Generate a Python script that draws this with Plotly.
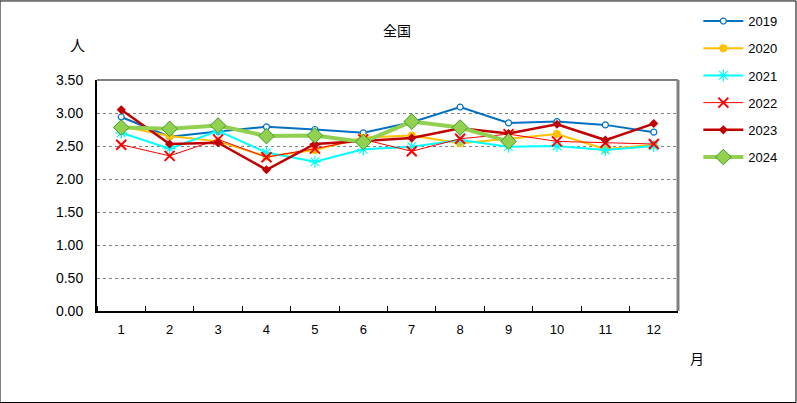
import plotly.graph_objects as go

months = list(range(1, 13))
month_labels = [str(m) for m in months]
y_ticks = [0, 0.5, 1.0, 1.5, 2.0, 2.5, 3.0, 3.5]

v2019 = [2.94, 2.64, 2.72, 2.79, 2.75, 2.70, 2.86, 3.09, 2.85, 2.87, 2.82, 2.71]
v2020 = [2.80, 2.65, 2.57, 2.34, 2.44, 2.63, 2.66, 2.54, 2.61, 2.68, 2.45, 2.52]
v2021 = [2.70, 2.46, 2.73, 2.40, 2.26, 2.45, 2.49, 2.59, 2.49, 2.50, 2.44, 2.50]
v2022 = [2.52, 2.35, 2.60, 2.33, 2.46, 2.60, 2.42, 2.61, 2.68, 2.57, 2.55, 2.53]
v2023 = [3.05, 2.53, 2.55, 2.14, 2.53, 2.57, 2.62, 2.77, 2.69, 2.83, 2.59, 2.84]
v2024 = [2.78, 2.76, 2.81, 2.65, 2.66, 2.56, 2.87, 2.78, 2.57]

series = [
    ("2019", v2019, dict(color="#0070C0", width=2),
     dict(symbol="circle", size=6, color="white", line=dict(color="#0070C0", width=1.2))),
    ("2020", v2020, dict(color="#FFC000", width=2),
     dict(symbol="circle", size=8, color="#FFC000", line=dict(color="#FFC000", width=0))),
    ("2021", v2021, dict(color="#00FFFF", width=2),
     dict(symbol="asterisk-open", size=10, color="#00FFFF", line=dict(color="#00FFFF", width=1.2))),
    ("2022", v2022, dict(color="#FF0000", width=1),
     dict(symbol="x-thin-open", size=10, color="#FF0000", line=dict(color="#FF0000", width=2))),
    ("2023", v2023, dict(color="#C00000", width=2.5),
     dict(symbol="diamond", size=7, color="#C00000", line=dict(color="#C00000", width=0))),
    ("2024", v2024, dict(color="#92D050", width=4),
     dict(symbol="diamond", size=12, color="#92D050", line=dict(color="#3F9A2A", width=1))),
]

fig = go.Figure()
for name, vals, line, marker in series:
    fig.add_trace(go.Scatter(
        x=months[:len(vals)], y=vals, name=name, mode="lines+markers",
        line=line, marker=marker, legendgroup=name,
    ))

font_num = "Liberation Sans, Arial, sans-serif"
fig.update_layout(
    width=797, height=403,
    margin=dict(l=97, r=119, t=80, b=92, autoexpand=False),
    paper_bgcolor="white", plot_bgcolor="white",
    font=dict(family=font_num, size=13, color="black"),
    showlegend=True,
    legend=dict(x=1.035, y=1.32, xanchor="left", yanchor="top",
                font=dict(size=13, family=font_num), tracegroupgap=7.3,
                bgcolor="rgba(0,0,0,0)", itemwidth=40),
    xaxis=dict(range=[0.5, 12.5], tickvals=months, ticktext=month_labels,
               ticks="", showgrid=False, zeroline=False,
               showline=True, linecolor="black", linewidth=2, mirror=False,
               minor=dict(tick0=0.5, dtick=1, ticks="inside", ticklen=5,
                          tickcolor="black", showgrid=False),
               tickfont=dict(size=13), ticklabelstandoff=5),
    yaxis=dict(range=[0, 3.5], tickvals=y_ticks,
               ticktext=[f"{v:.2f}" for v in y_ticks],
               showgrid=True, gridcolor="#808080", griddash="dot", gridwidth=1,
               zeroline=False, showline=True, linecolor="black", linewidth=2,
               ticks="", tickfont=dict(size=14), ticklabelstandoff=9),
)

# plot area border top/right (gray)
fig.add_shape(type="line", xref="paper", yref="paper", x0=0, x1=1, y0=1, y1=1,
              line=dict(color="#808080", width=2))
fig.add_shape(type="line", xref="paper", yref="paper", x0=1, x1=1, y0=0, y1=1,
              line=dict(color="#808080", width=3))
# outer chart border
fig.add_shape(type="rect", xref="paper", yref="paper",
              x0=-97/581, x1=(797-97-1)/581, y0=-(92-0.5)/231, y1=(80+231-0.5)/231 - 0.002,
              line=dict(color="black", width=1))

jp = "Noto Sans CJK JP"
fig.add_annotation(text="全国", xref="paper", yref="paper", x=(397-97)/581, y=(311-30)/231,
                   xanchor="center", yanchor="middle",
                   showarrow=False, font=dict(family=jp, size=14))
fig.add_annotation(text="人", xref="paper", yref="paper", x=(77-97)/581, y=(311-45)/231,
                   xanchor="center", yanchor="middle",
                   showarrow=False, font=dict(family=jp, size=15))
fig.add_annotation(text="月", xref="paper", yref="paper", x=(697-97)/581, y=(311-358)/231,
                   xanchor="center", yanchor="middle",
                   showarrow=False, font=dict(family=jp, size=14))

fig.write_html("out.html")
